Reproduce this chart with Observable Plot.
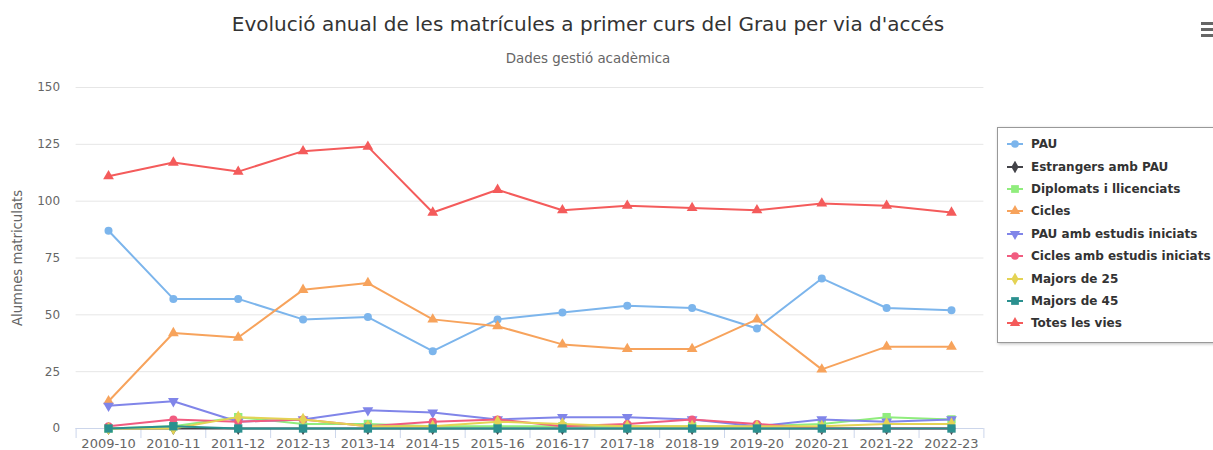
<!DOCTYPE html>
<html><head><meta charset="utf-8">
<script src="https://cdn.jsdelivr.net/npm/d3@7"></script>
<script src="https://cdn.jsdelivr.net/npm/@observablehq/plot@0.6"></script>
<style>
body{margin:0;background:#fff;font-family:"DejaVu Sans",Verdana,sans-serif;}
#wrap{position:relative;width:1213px;height:450px;overflow:hidden;}
#head{position:relative;height:75px;}
#title{position:absolute;top:12px;left:0;width:1176px;text-align:center;font-size:20px;line-height:24px;color:#333;}
#sub{position:absolute;top:50px;left:0;width:1176px;text-align:center;font-size:13.4px;line-height:18px;color:#666;}
#menu{position:absolute;left:1201px;top:22px;width:14px;}
#menu div{height:3px;background:#666;margin-bottom:3px;}
#legend{position:absolute;left:997px;top:127px;width:240px;height:216px;border:1px solid #999;box-shadow:1px 1px 3px rgba(0,0,0,0.25);background:#fff;box-sizing:border-box;padding-top:5px;}
.item{height:22.4px;display:flex;align-items:center;font-weight:bold;font-size:12px;color:#333;white-space:nowrap;}
.item svg{margin-left:9px;margin-right:8px;}
#chart svg{display:block;}
</style></head>
<body>
<div id="wrap">
  <div id="head">
    <div id="title">Evolució anual de les matrícules a primer curs del Grau per via d'accés</div>
    <div id="sub">Dades gestió acadèmica</div>
    <div id="menu"><div></div><div></div><div></div></div>
  </div>
  <div id="chart"></div>
  <div id="legend"></div>
</div>
<script>
const years = ["2009-10","2010-11","2011-12","2012-13","2013-14","2014-15","2015-16","2016-17","2017-18","2018-19","2019-20","2020-21","2021-22","2022-23"];
const yTicks = [0,25,50,75,100,125,150];

const seriesNames = ["PAU","Estrangers amb PAU","Diplomats i llicenciats","Cicles","PAU amb estudis iniciats","Cicles amb estudis iniciats","Majors de 25","Majors de 45","Totes les vies"];
const seriesColors = ["#7cb5ec","#434348","#90ed7d","#f7a35c","#8085e9","#f15c80","#e4d354","#2b908f","#f45b5b"];
const seriesSymbols = ["circle","diamond","square","triangle","triangle-down","circle","diamond","square","triangle"];

const pau          = [87,57,57,48,49,34,48,51,54,53,44,66,53,52];
const estrangers   = [0,0,0,0,0,0,0,0,0,0,0,0,0,0];
const diplomats    = [0,1,5,2,2,1,1,1,1,1,1,2,5,4];
const cicles       = [12,42,40,61,64,48,45,37,35,35,48,26,36,36];
const pauEstudis   = [10,12,3,4,8,7,4,5,5,4,1,4,3,4];
const ciclesEstudis= [1,4,3,4,1,3,4,1,2,4,2,0,0,0];
const majors25     = [0,0,5,4,1,1,3,2,1,1,1,1,2,2];
const majors45     = [0,1,0,0,0,0,0,0,0,0,0,0,0,0];
const totes        = [111,117,113,122,124,95,105,96,98,97,96,99,98,95];

const seriesValues = [pau,estrangers,diplomats,cicles,pauEstudis,ciclesEstudis,majors25,majors45,totes];

const W = 1213, H = 375, ML = 75.6, MR = 229.6, MT = 12, MB = 22;
const bw = (W - ML - MR) / years.length;

const seriesMarks = seriesNames.flatMap((name, i) => {
  const data = years.map((year, j) => ({year, value: seriesValues[i][j]}));
  const sym = seriesSymbols[i];
  const down = sym === "triangle-down";
  return [
    Plot.line(data, {x: "year", y: "value", stroke: seriesColors[i], strokeWidth: 2}),
    Plot.dot(data, {x: "year", y: "value", fill: seriesColors[i], stroke: "none",
      symbol: down ? "triangle" : sym, rotate: down ? 180 : 0,
      r: sym === "square" ? 4.7 : 4})
  ];
});

const chart = Plot.plot({
  width: W, height: H,
  marginLeft: ML, marginRight: MR, marginTop: MT, marginBottom: MB,
  style: {fontFamily: "DejaVu Sans, Verdana, sans-serif", fontSize: "12px", background: "#fff"},
  x: {type: "band", domain: years, padding: 0, round: false},
  y: {domain: [0, 150]},
  marks: [
    Plot.gridY(yTicks, {stroke: "#e6e6e6", strokeOpacity: 1}),
    Plot.axisY(yTicks, {tickSize: 0, tickPadding: 16, fill: "#666", label: null}),
    Plot.axisY({tickSize: 0, ticks: [], label: "Alumnes matriculats", fill: "#666", fontSize: 13.2,
      labelAnchor: "center", labelArrow: "none", labelOffset: 63}),
    Plot.ruleY([0], {stroke: "#ccd6eb"}),
    Plot.axisX({tickSize: 0, tickPadding: 10, fill: "#666", fontSize: 13, label: null}),
    Plot.axisX({tickSize: 10, tickFormat: () => "", stroke: "#ccd6eb", strokeOpacity: 1, dx: -bw / 2, label: null}),
    Plot.axisX([years[years.length - 1]], {tickSize: 10, tickFormat: () => "", stroke: "#ccd6eb", strokeOpacity: 1, dx: bw / 2, label: null}),
    ...seriesMarks
  ]
});
document.getElementById("chart").appendChild(chart);

// legend (HTML)
const legend = document.getElementById("legend");
seriesNames.forEach((name, i) => {
  const item = document.createElement("div");
  item.className = "item";
  const sym = seriesSymbols[i];
  const down = sym === "triangle-down";
  const s = d3.create("svg").attr("width", 16).attr("height", 12);
  s.append("line").attr("x1", 0).attr("x2", 16).attr("y1", 6).attr("y2", 6)
    .attr("stroke", seriesColors[i]).attr("stroke-width", 2);
  const symMap = {circle: d3.symbolCircle, diamond: d3.symbolDiamond, square: d3.symbolSquare, triangle: d3.symbolTriangle, "triangle-down": d3.symbolTriangle};
  s.append("path").attr("d", d3.symbol(symMap[sym], sym === "square" ? 60 : 46)())
    .attr("transform", `translate(8,6) rotate(${down ? 180 : 0})`)
    .attr("fill", seriesColors[i]);
  item.appendChild(s.node());
  const t = document.createElement("span");
  t.textContent = name;
  item.appendChild(t);
  legend.appendChild(item);
});
</script>
</body></html>
